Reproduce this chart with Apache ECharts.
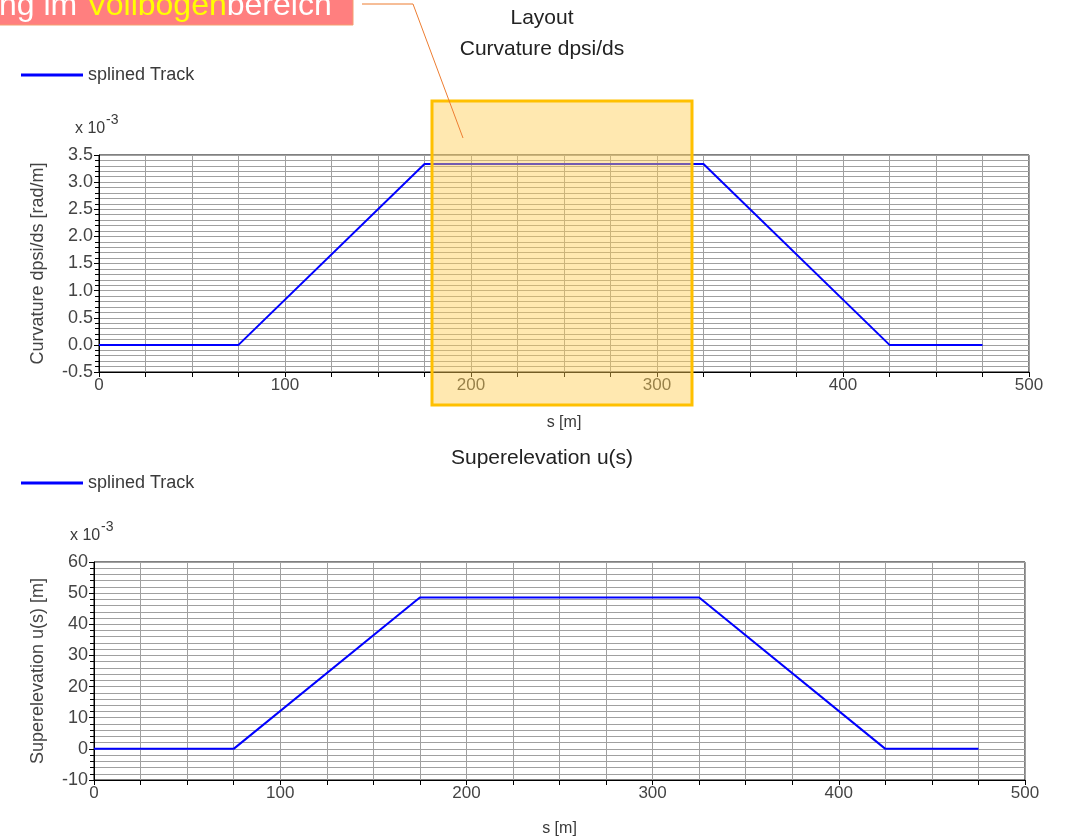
<!DOCTYPE html>
<html>
<head>
<meta charset="utf-8">
<script src="https://cdn.jsdelivr.net/npm/echarts@6/dist/echarts.min.js"></script>
<style>
  html, body { margin: 0; padding: 0; background: #fff; }
  #chart { width: 1069px; height: 839px; }
</style>
</head>
<body>
<div id="chart"></div>
<script>
// track position s [m]
const sPoints = [0, 75, 175, 325, 425, 475];
// curvature dpsi/ds, in 1e-3 rad/m
const curvature = [0, 0, 3.333, 3.333, 0, 0];
// superelevation u(s), in 1e-3 m
const superelevation = [0, 0, 48.6, 48.6, 0, 0];

const seriesName = "splined Track";
const blue = "#0000ff";
const gridGrey = "#a0a0a0";
const textGrey = "#3a3a3a";

function pairs(xs, ys) {
  return xs.map((x, i) => [x, ys[i]]);
}

// shared x axis look
function makeX(gridIndex, gap) {
  return {
    gridIndex: gridIndex,
    type: "value",
    min: 0,
    max: 500,
    interval: 100,
    name: "s [m]",
    nameLocation: "middle",
    nameGap: gap,
    nameTextStyle: { fontSize: 16, color: textGrey },
    axisLine: { show: true, onZero: false, lineStyle: { color: "#000", width: 1 } },
    axisTick: { show: true, length: 5, lineStyle: { color: "#000" } },
    minorTick: { show: true, splitNumber: 4, length: 5, lineStyle: { color: "#000" } },
    axisLabel: { fontSize: 17, color: "#444", margin: 5 },
    splitLine: { show: true, lineStyle: { color: gridGrey, width: 1 } },
    minorSplitLine: { show: true, lineStyle: { color: gridGrey, width: 1 } }
  };
}

function makeY(gridIndex, opts) {
  return Object.assign({
    gridIndex: gridIndex,
    type: "value",
    nameLocation: "middle",
    nameTextStyle: { fontSize: 18, color: "#444" },
    axisLine: { show: true, onZero: false, lineStyle: { color: "#000", width: 1 } },
    axisTick: { show: true, length: 5, lineStyle: { color: "#000" } },
    minorTick: { show: true, splitNumber: 5, length: 4, lineStyle: { color: "#000" } },
    axisLabel: { fontSize: 18, color: "#444", margin: 6 },
    splitLine: { show: true, lineStyle: { color: gridGrey, width: 1 } },
    minorSplitLine: { show: true, lineStyle: { color: gridGrey, width: 1 } }
  }, opts);
}

const option = {
  animation: false,
  textStyle: { fontFamily: "Liberation Sans" },
  title: [
    { text: "Layout", left: 537, top: 3, textAlign: "center",
      textStyle: { fontSize: 21, fontWeight: "normal", color: "#222" } },
    { text: "Curvature dpsi/ds", left: 537, top: 34, textAlign: "center",
      textStyle: { fontSize: 21, fontWeight: "normal", color: "#222" } },
    { text: "Superelevation u(s)", left: 537, top: 443, textAlign: "center",
      textStyle: { fontSize: 21, fontWeight: "normal", color: "#222" } }
  ],
  legend: [
    { data: [seriesName], left: 21, top: 66, padding: 0, icon: "rect", itemWidth: 62, itemHeight: 3,
      itemGap: 5, textStyle: { fontSize: 18, color: textGrey, padding: [0, 0, 0, 0] } },
    { data: [seriesName], left: 21, top: 474, padding: 0, icon: "rect", itemWidth: 62, itemHeight: 3,
      itemGap: 5, textStyle: { fontSize: 18, color: textGrey } }
  ],
  grid: [
    { left: 99, top: 155, width: 930, height: 217, show: true, borderColor: "#000", borderWidth: 1 },
    { left: 94, top: 562, width: 931, height: 218, show: true, borderColor: "#000", borderWidth: 1 }
  ],
  xAxis: [makeX(0, 43), makeX(1, 41)],
  yAxis: [
    makeY(0, {
      min: -0.5, max: 3.5, interval: 0.5,
      name: "Curvature dpsi/ds [rad/m]", nameGap: 52,
      axisLabel: { fontSize: 18, color: "#444", margin: 6,
        formatter: v => v.toFixed(1) }
    }),
    makeY(1, {
      min: -10, max: 60, interval: 10,
      name: "Superelevation u(s) [m]", nameGap: 47
    })
  ],
  series: [
    {
      name: seriesName, type: "line", xAxisIndex: 0, yAxisIndex: 0,
      data: pairs(sPoints, curvature),
      showSymbol: false, lineStyle: { color: blue, width: 2 }, itemStyle: { color: blue }
    },
    {
      name: seriesName, type: "line", xAxisIndex: 1, yAxisIndex: 1,
      data: pairs(sPoints, superelevation),
      showSymbol: false, lineStyle: { color: blue, width: 2 }, itemStyle: { color: blue }
    }
  ],
  graphic: [
    // exponent labels
    { type: "text", left: 75, top: 121, style: { text: "x 10", fontSize: 16, fill: textGrey } },
    { type: "text", left: 106, top: 113, style: { text: "-3", fontSize: 14, fill: textGrey } },
    { type: "text", left: 70, top: 528, style: { text: "x 10", fontSize: 16, fill: textGrey } },
    { type: "text", left: 101, top: 520, style: { text: "-3", fontSize: 14, fill: textGrey } },
    // highlight box over full curve region
    { type: "rect", z: 100, shape: { x: 432, y: 101, width: 260, height: 304 },
      style: { fill: "rgba(255,205,80,0.45)", stroke: "#ffc000", lineWidth: 3 } },
    // callout
    { type: "polyline", z: 101, shape: { points: [[362, 4], [413, 4], [463, 138]] },
      style: { stroke: "#ed7d31", lineWidth: 1, fill: null } },
    { type: "rect", z: 101, shape: { x: -2, y: -10, width: 355, height: 35 },
      style: { fill: "#ff7f7f", stroke: "#f4a070", lineWidth: 1 } },
    { type: "text", z: 102, x: -1, y: 6,
      style: {
        text: "{w|ng im }{y|Vollbogen}{w|bereich}",
        verticalAlign: "middle",
        rich: {
          w: { fontSize: 32, fill: "#fff", fontFamily: "Liberation Sans" },
          y: { fontSize: 32, fill: "#ffff00", fontFamily: "Liberation Sans" }
        }
      } }
  ]
};

const chart = echarts.init(document.getElementById("chart"));
chart.setOption(option);
</script>
</body>
</html>
